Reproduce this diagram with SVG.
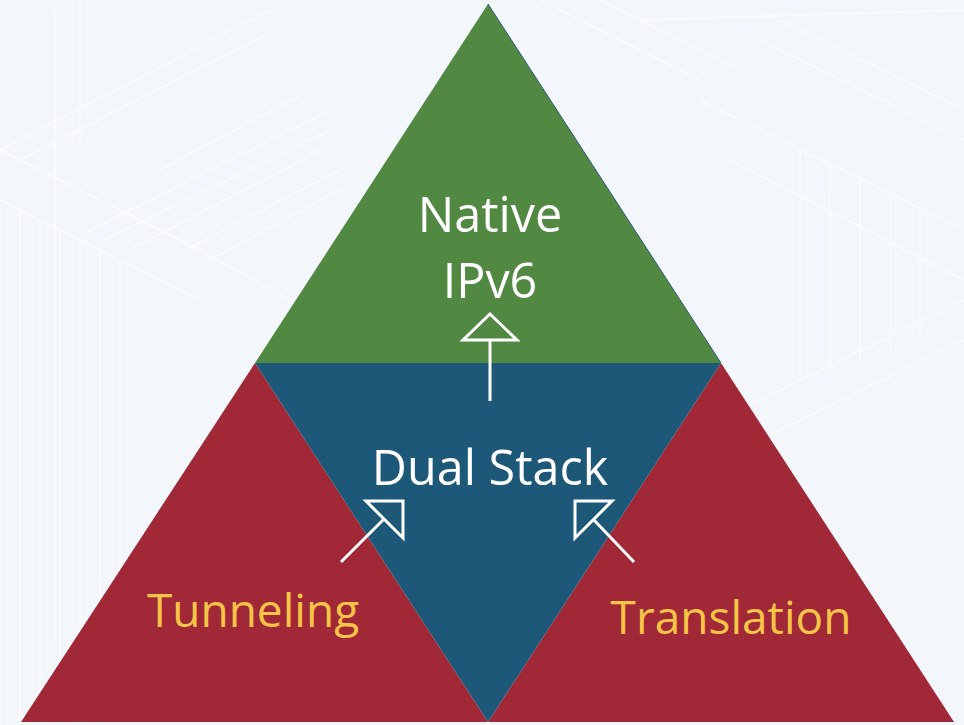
<svg xmlns="http://www.w3.org/2000/svg" width="964" height="725" viewBox="0 0 964 725">
<style>
.bg-line{fill:none;stroke:#ffffff;stroke-width:2;opacity:0.6}
.lbl{font-family:"Open Sans","Noto Sans",sans-serif;font-size:46px;text-anchor:middle}
.big{font-size:48.5px}
.white{fill:#ffffff}
.yellow{fill:#f6c547}
.arrow{fill:none;stroke:#ffffff;stroke-width:3;stroke-linejoin:miter}
</style>
<rect width="964" height="725" fill="#f3f6fa"/>
<g id="background">
<path class="bg-line" d="M0 150 L270 10 M20 160 L265 35 M80 150 L80 0 M55 10 L55 640 M80 235 L330 110 M105 240 L330 130 M130 250 L330 145 M160 170 L300 95 M185 250 L340 170 M210 260 L340 190"/>
<path class="bg-line" d="M0 150 L180 240 L420 370 M0 200 L200 300 M0 205 L0 725 M20 210 L20 725 M40 220 L40 725 M60 230 L60 725 M80 240 L80 725 M100 250 L100 725 M120 260 L120 650"/>
<path class="bg-line" d="M760 40 L964 140 M780 20 L964 110 M700 100 L964 230 M730 160 L964 280 M720 420 L964 300 M740 450 L964 340 M800 150 L800 380 M830 165 L830 370 M860 180 L860 360 M890 195 L890 350 M920 210 L920 340"/>
<path class="bg-line" d="M540 0 L700 80 M600 0 L740 70 M640 20 L964 10"/>
</g>
<g id="tunneling">
<polygon points="255,363 21,722 488,722" fill="#a12836"/>
<text class="lbl yellow" x="253" y="627">Tunneling</text>
</g>
<g id="translation">
<polygon points="721,363 488,722 954,722" fill="#a12836"/>
<text class="lbl yellow" x="731" y="634">Translation</text>
</g>
<g id="native-ipv6">
<polygon points="488,4 255,363 721,363" fill="#518842"/>
<line x1="488" y1="4" x2="721" y2="363" stroke="#2b5a7a" stroke-width="1"/>
<text class="lbl big white" x="490" y="232">Native</text>
<text class="lbl big white" x="490" y="298">IPv6</text>
</g>
<g id="dual-stack">
<polygon points="255,363 721,363 488,722" fill="#1e5878"/>
<text class="lbl big white" x="490" y="485">Dual Stack</text>
</g>
<g id="connectors">
<line class="arrow" x1="490" y1="401" x2="490" y2="340"/>
<polygon class="arrow" points="463,340 517,340 490,314"/>
<line class="arrow" x1="341" y1="562" x2="384" y2="519"/>
<polygon class="arrow" points="366,501 403,501 403,538"/>
<line class="arrow" x1="634" y1="562" x2="593" y2="519"/>
<polygon class="arrow" points="612,501 575,501 575,538"/>
</g>
</svg>
